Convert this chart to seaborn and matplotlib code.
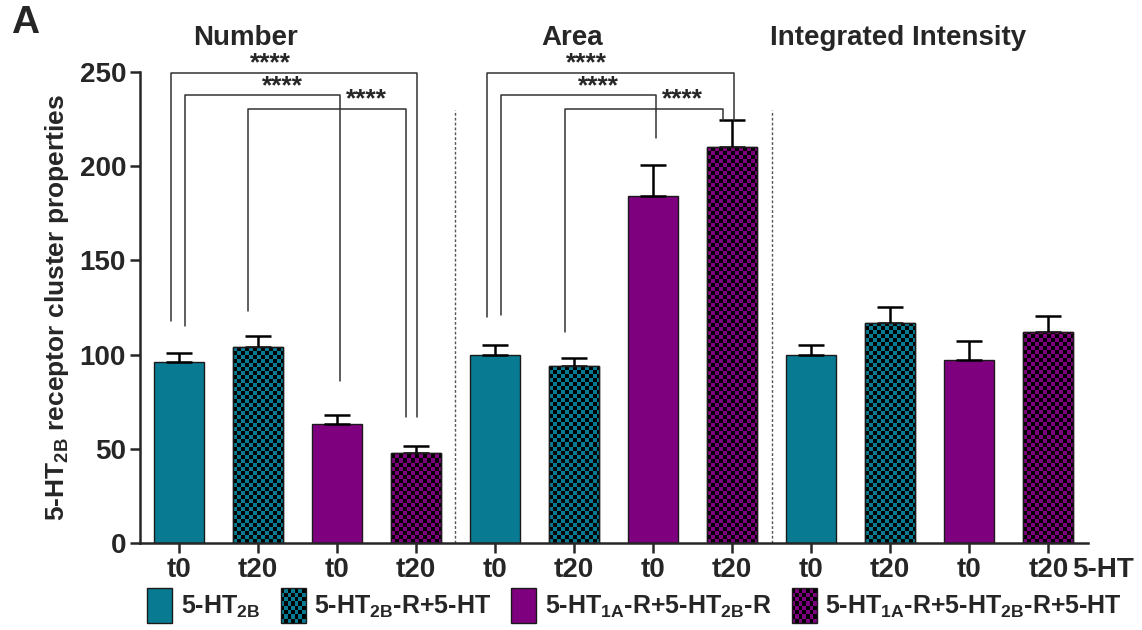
import numpy as np
import pandas as pd
import seaborn as sns
import matplotlib
matplotlib.use("Agg")
import matplotlib.pyplot as plt
from matplotlib.colors import ListedColormap
from matplotlib.patches import Rectangle
from matplotlib.legend_handler import HandlerBase

# ─── Data ────────────────────────────────────────────────────────────────
PANELS = ["Number", "Area", "Integrated Intensity"]
CONDITIONS = [
    "5-HT$_{2B}$",
    "5-HT$_{2B}$-R+5-HT",
    "5-HT$_{1A}$-R+5-HT$_{2B}$-R",
    "5-HT$_{1A}$-R+5-HT$_{2B}$-R+5-HT",
]
TIME_LABELS = ["t0", "t20", "t0", "t20"]
MEANS = [96, 104, 63, 48, 100, 94, 184, 210, 100, 117, 97, 112]
SEM = [5.0, 5.8, 4.7, 3.4, 5.1, 4.4, 16.9, 14.3, 4.9, 8.5, 10.3, 8.3]

# significance brackets: (left bar, right bar, bracket height, left leg end, right leg end)
BRACKETS = [
    (0, 3, 249.5, 118, 67), (0, 2, 237.8, 115, 86), (1, 3, 230.5, 123, 67),
    (4, 7, 249.5, 120, 224.5), (4, 6, 237.8, 121, 215), (5, 7, 230.5, 112, 224.5),
]
SIG_LABEL = "****"

# ─── Style ───────────────────────────────────────────────────────────────
TEAL = "#087a92"
PURPLE = "#7e007e"
COLORS = [TEAL, TEAL, PURPLE, PURPLE]
CHECKER = [False, True, False, True]
LEG_DX = [(-0.1, 0.02), (0.08, 0.04), (-0.12, -0.12)]   # leg offsets per level
STAR_DX = [-0.3, 0.25, 0.49]

sns.set_style("ticks")
plt.rcParams["font.family"] = ["Liberation Sans", "DejaVu Sans"]
plt.rcParams["font.weight"] = "bold"
plt.rcParams["mathtext.fontset"] = "custom"
plt.rcParams["mathtext.default"] = "rm"
plt.rcParams["mathtext.rm"] = "Liberation Sans:bold"
plt.rcParams["mathtext.bf"] = "Liberation Sans:bold"
plt.rcParams["mathtext.it"] = "Liberation Sans:bold"

n_groups = len(CONDITIONS)
rows = []
for i, m in enumerate(MEANS):
    rows.append({"slot": f"b{i}", "value": m, "cond": CONDITIONS[i % n_groups],
                 "panel": PANELS[i // n_groups]})
df = pd.DataFrame(rows)

fig = plt.figure(figsize=(11.42, 6.30), dpi=100)
ax = fig.add_axes([0.1226, 0.138, 0.83, 0.7477])

sns.barplot(data=df, x="slot", y="value", hue="cond", hue_order=CONDITIONS,
            palette=dict(zip(CONDITIONS, COLORS)), dodge=False, width=0.63,
            saturation=1, errorbar=None, legend=False, edgecolor="#1a1a1a",
            linewidth=1.0, ax=ax)

x = np.arange(len(MEANS))
ax.errorbar(x, MEANS, yerr=[np.zeros(len(SEM)), SEM], fmt="none", ecolor="black",
            elinewidth=1.8, capsize=9.5, capthick=1.8, zorder=1)

# checkerboard fill on "+5-HT" bars
cell_x = 4 / 79.05
cell_y = 4 / 1.884
for p in list(ax.patches):
    w = p.get_width()
    if w <= 0:
        continue
    idx = int(round(p.get_x() + w / 2))
    if idx < 0 or idx >= len(MEANS) or not CHECKER[idx % n_groups]:
        continue
    x0, h = p.get_x(), p.get_height()
    nx = int(np.ceil(w / cell_x))
    ny = int(np.ceil(h / cell_y))
    board = (np.add.outer(np.arange(ny), np.arange(nx)) % 2).astype(float)
    im = ax.imshow(board, cmap=ListedColormap([COLORS[idx % n_groups], "black"]),
                   extent=(x0, x0 + nx * cell_x, 0, ny * cell_y), origin="lower",
                   interpolation="nearest", aspect="auto", zorder=p.get_zorder() + 0.1)
    im.set_clip_path(p)
    ax.add_patch(Rectangle((x0, 0), w, h, fill=False, edgecolor="#1a1a1a",
                           linewidth=1.0, zorder=p.get_zorder() + 0.2))
ax.set_xlim(-0.49, 11.5)
ax.set_ylim(0, 250)

# separators between panels
for k in range(1, len(PANELS)):
    ax.plot([k * n_groups - 0.5] * 2, [0, 230], ls=(0, (2, 1.5)), color="#555555",
            lw=1.0, clip_on=False)

# panel titles
for k, name in enumerate(PANELS):
    cx = k * n_groups + [0.84, 0.98, 1.1][k]
    ax.text(cx, 268, name, ha="center", va="center", fontsize=20, fontweight="bold",
            clip_on=False)

# significance brackets
for j, (a, b, yb, ya_end, yb_end) in enumerate(BRACKETS):
    lvl = j % 3
    xa = a + LEG_DX[lvl][0]
    xb = b + LEG_DX[lvl][1]
    ax.plot([xa, xa, xb, xb], [ya_end, yb, yb, yb_end], color="#333333", lw=1.1,
            clip_on=False, zorder=3)
    ax.text((xa + xb) / 2 + STAR_DX[lvl], yb - 1.5, SIG_LABEL, ha="center", va="bottom",
            fontsize=19, fontweight="bold", clip_on=False)

# axes styling
ax.set_xticks(x)
ax.set_xticklabels(TIME_LABELS * len(PANELS), fontsize=20, fontweight="bold")
ax.set_yticks(np.arange(0, 251, 50))
ax.tick_params(axis="y", labelsize=20, width=1.8, length=7, pad=3)
ax.tick_params(axis="x", width=1.8, length=7, pad=3)
for lbl in ax.get_yticklabels():
    lbl.set_fontweight("bold")
ax.set_xlabel("")
ax.set_ylabel("5-HT$_{2B}$ receptor cluster properties", fontsize=19, fontweight="bold",
              labelpad=6)
for s in ["top", "right"]:
    ax.spines[s].set_visible(False)
for s in ["left", "bottom"]:
    ax.spines[s].set_linewidth(1.8)
ax.annotate("5-HT", xy=(11.3, 0), xycoords=("data", "axes fraction"),
            xytext=(0, -10), textcoords="offset points", ha="left", va="top",
            fontsize=20, fontweight="bold", annotation_clip=False)

fig.text(0.01, 0.963, "A", fontsize=28, fontweight="bold", va="center")


# legend with checkered swatches
class CheckerHandler(HandlerBase):
    def __init__(self, color, checker):
        super().__init__()
        self.color = color
        self.checker = checker

    def create_artists(self, legend, orig_handle, xdescent, ydescent, width, height,
                       fontsize, trans):
        x0, y0 = -xdescent, -ydescent - 5
        height = height + 9
        arts = [Rectangle((x0, y0), width, height, facecolor=self.color,
                          edgecolor="none", transform=trans)]
        if self.checker:
            nx, ny = 7, 8
            cw, ch = width / nx, height / ny
            for i in range(nx):
                for j in range(ny):
                    if (i + j) % 2:
                        arts.append(Rectangle((x0 + i * cw, y0 + j * ch), cw, ch,
                                              facecolor="black", edgecolor="none",
                                              transform=trans))
        arts.append(Rectangle((x0, y0), width, height, fill=False, edgecolor="#1a1a1a",
                              linewidth=1.0, transform=trans))
        return arts


handles = [Rectangle((0, 0), 1, 1) for _ in CONDITIONS]
hmap = {h: CheckerHandler(COLORS[i], CHECKER[i]) for i, h in enumerate(handles)}
fig.legend(handles, CONDITIONS, handler_map=hmap, loc="center",
           bbox_to_anchor=(0.556, 0.037), ncol=4, frameon=False,
           prop={"size": 18, "weight": "bold"}, handlelength=1.0, handleheight=1.0,
           handletextpad=0.35, columnspacing=0.8)

plt.savefig("out.png", dpi=100)
plt.close()
